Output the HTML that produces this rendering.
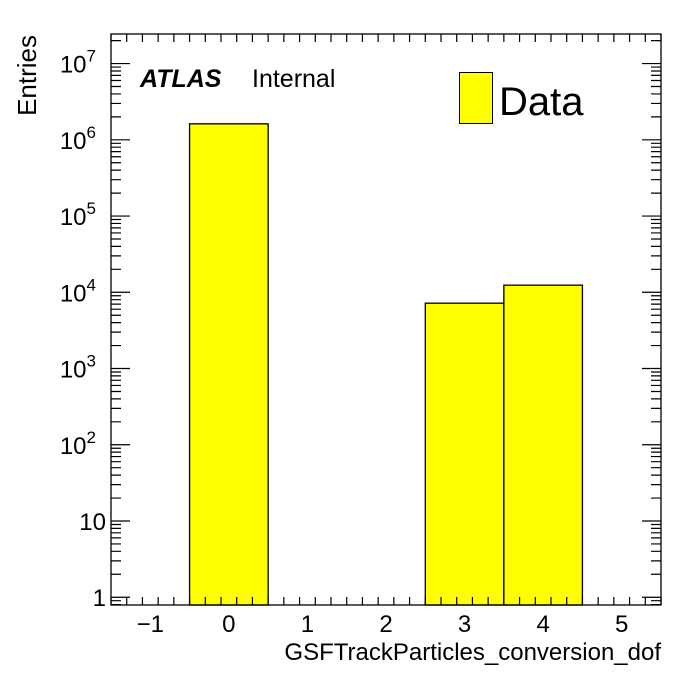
<!DOCTYPE html>
<html><head><meta charset="utf-8"><style>
html,body{margin:0;padding:0;background:#fff;}
svg text{font-family:"Liberation Sans",sans-serif;}
</style></head><body>
<svg id="chart" width="696" height="672" viewBox="0 0 696 672" xmlns="http://www.w3.org/2000/svg">
<rect width="696" height="672" fill="#fff"/>
<g id="bars"></g>
<g id="axes"></g>
<text x="27" y="35" transform="rotate(-90 27 35)" text-anchor="end" dominant-baseline="central" font-size="26">Entries</text>
<text x="661" y="660" text-anchor="end" font-size="24">GSFTrackParticles_conversion_dof</text>
<text x="140" y="87" font-size="25" font-weight="bold" font-style="italic">ATLAS</text>
<text x="252" y="87" font-size="25">Internal</text>
<rect x="459.5" y="72.5" width="33" height="51" fill="#ffff00" stroke="#000" stroke-width="1"/>
<text x="499" y="115" font-size="40">Data</text>
</svg>
<script>
const binEdges = [-0.5, 0.5, 1.5, 2.5, 3.5, 4.5];
const binValues = [1620000, 0, 0, 7200, 12400];
const xTicks = [-1, 0, 1, 2, 3, 4, 5];
const xTickLabels = ["\u22121", "0", "1", "2", "3", "4", "5"];
const yDecades = [0, 1, 2, 3, 4, 5, 6, 7];

const L=111, R=661, T=34, B=605;
const XMIN=-1.5, XMAX=5.5;
const LOGMIN=-0.102, LOGMAX=7.388;
const NS="http://www.w3.org/2000/svg";
function xs(v){return L+(v-XMIN)/(XMAX-XMIN)*(R-L);}
function ys(v){return B-(Math.log10(v)-LOGMIN)/(LOGMAX-LOGMIN)*(B-T);}
function mk(tag, attrs, parent){const e=document.createElementNS(NS,tag);for(const k in attrs)e.setAttribute(k,attrs[k]);parent.appendChild(e);return e;}

const bars=document.getElementById('bars');
for(let i=0;i<binValues.length;i++){
  if(binValues[i]<=0)continue;
  const x0=xs(binEdges[i]), x1=xs(binEdges[i+1]), y=ys(binValues[i]);
  const r=mk('rect',{x:x0,y:y,width:x1-x0,height:B-y,fill:'#ffff00',stroke:'#000','stroke-width':1.3},bars);
  
  
}

const ax=document.getElementById('axes');
const frame=mk('rect',{x:L,y:T,width:R-L,height:B-T,fill:'none',stroke:'#000','stroke-width':1.3},ax);


let d='';
// x ticks
for(let v=XMIN; v<=XMAX+1e-9; v+=0.2){
  const isMaj=Math.abs(v-Math.round(v))<1e-6;
  const len=isMaj?16:8;
  const x=xs(v);
  d+=`M${x} ${B}v${-len}M${x} ${T}v${len}`;
}
// y ticks
for(let dec=-1; dec<=7; dec++){
  for(let m=1;m<10;m++){
    const v=m*Math.pow(10,dec);
    const lv=Math.log10(v);
    if(lv<LOGMIN||lv>LOGMAX)continue;
    const len=m===1?19:10;
    const y=ys(v);
    d+=`M${L} ${y}h${len}M${R} ${y}h${-len}`;
  }
}
const tk=mk('path',{d:d,stroke:'#000','stroke-width':1.2,fill:'none'},ax);



xTicks.forEach((v,i)=>{
  const t=mk('text',{x:xs(v),y:632,'text-anchor':'middle','font-size':24},ax);
  t.textContent=xTickLabels[i];
  
  
});
yDecades.forEach(dec=>{
  const y=ys(Math.pow(10,dec));
  const t=mk('text',{x:dec>=2?96:106,y:y+9,'text-anchor':'end','font-size':24},ax);
  
  
  if(dec===0){t.textContent='1';}
  else if(dec===1){t.textContent='10';}
  else{
    t.textContent='10';
    const s=mk('tspan',{'font-size':17,dy:-11},t);
    s.textContent=String(dec);
  }
});
</script>
</body></html>
